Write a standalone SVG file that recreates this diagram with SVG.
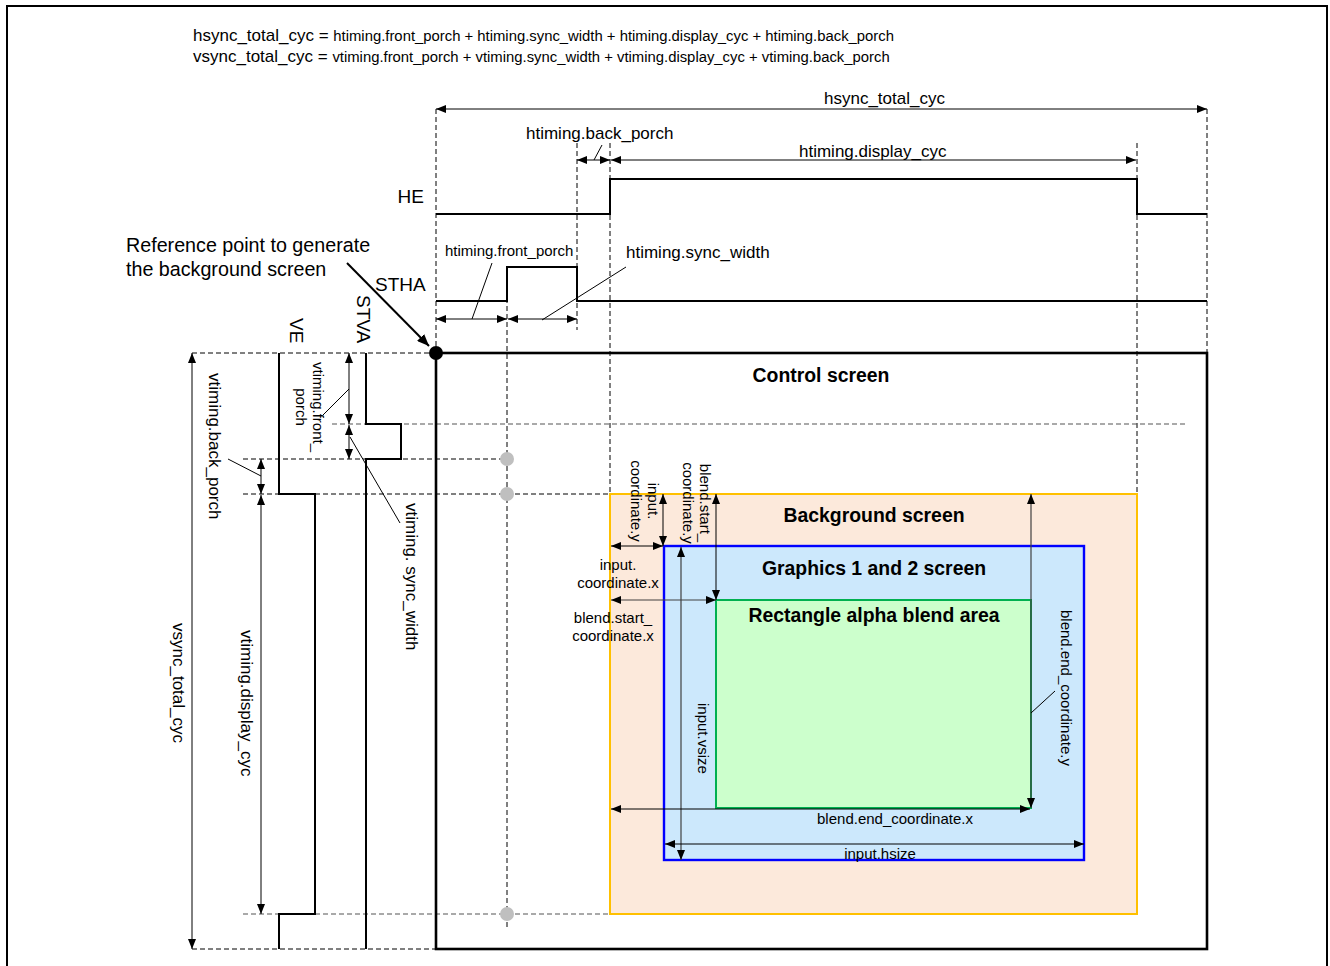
<svg xmlns="http://www.w3.org/2000/svg" width="1330" height="966" viewBox="0 0 1330 966">
<style>
text{font-family:"Liberation Sans",Arial,sans-serif;fill:#000}
.t17{font-size:17px}
.t15{font-size:15px}
.t19{font-size:19px}
.b{font-size:19.4px;font-weight:bold}
.dim{stroke:#000;stroke-width:1;fill:none}
.dimg{stroke:#404040;stroke-width:1.2;fill:none}
.dash{stroke:#000;stroke-width:1;stroke-dasharray:5 3;fill:none}
.dashg{stroke:#555;stroke-width:1.2;stroke-dasharray:5 3;fill:none}
.wave{stroke:#000;stroke-width:2;fill:none}
.lead{stroke:#000;stroke-width:1;fill:none}
</style>
<defs>
<marker id="ah" viewBox="0 0 10 8" refX="10" refY="4" markerWidth="10" markerHeight="8" markerUnits="userSpaceOnUse" orient="auto-start-reverse">
<path d="M0,0 L10,4 L0,8 z" fill="#000"/>
</marker>
<marker id="ahb" viewBox="0 0 12 10" refX="12" refY="5" markerWidth="12" markerHeight="10" markerUnits="userSpaceOnUse" orient="auto">
<path d="M0,0 L12,5 L0,10 z" fill="#000"/>
</marker>
</defs>
<rect x="7" y="6" width="1320" height="970" fill="#fff" stroke="#000" stroke-width="2"/>

<g id="formula">
<text x="193" y="41"><tspan font-size="17">hsync_total_cyc = </tspan><tspan font-size="14.85">htiming.front_porch + htiming.sync_width + htiming.display_cyc + htiming.back_porch</tspan></text>
<text x="193" y="62"><tspan font-size="17">vsync_total_cyc = </tspan><tspan font-size="14.85">vtiming.front_porch + vtiming.sync_width + vtiming.display_cyc + vtiming.back_porch</tspan></text>
</g>

<g id="connectors">
<!-- dashed guides -->
<line class="dash" x1="436" y1="109" x2="436" y2="353"/>
<line class="dash" x1="1207" y1="109" x2="1207" y2="353"/>
<line class="dash" x1="577" y1="143" x2="577" y2="330"/>
<line class="dash" x1="610" y1="143" x2="610" y2="494"/>
<line class="dash" x1="1137" y1="143" x2="1137" y2="494"/>
<line class="dash" x1="507" y1="266" x2="507" y2="930"/>
<line class="dash" x1="192" y1="353" x2="436" y2="353"/>
<line class="dashg" x1="332" y1="424" x2="1188" y2="424"/>
<line class="dash" x1="243" y1="459" x2="507" y2="459"/>
<line class="dash" x1="243" y1="494" x2="610" y2="494"/>
<line class="dashg" x1="243" y1="914" x2="610" y2="914"/>
<line class="dash" x1="192" y1="949" x2="436" y2="949"/>

<!-- horizontal dimensions -->
<line class="dim" x1="436" y1="109" x2="1207" y2="109" marker-start="url(#ah)" marker-end="url(#ah)"/>
<line class="dim" x1="577" y1="160" x2="610" y2="160" marker-start="url(#ah)" marker-end="url(#ah)"/>
<line class="lead" x1="594" y1="160" x2="602" y2="145"/>
<line class="dim" x1="611" y1="160" x2="1136" y2="160" marker-start="url(#ah)" marker-end="url(#ah)"/>
<line class="dim" x1="436" y1="319" x2="507" y2="319" marker-start="url(#ah)" marker-end="url(#ah)"/>
<line class="lead" x1="472" y1="319" x2="492" y2="263"/>
<line class="dim" x1="508" y1="319" x2="577" y2="319" marker-start="url(#ah)" marker-end="url(#ah)"/>
<line class="lead" x1="542" y1="320" x2="626" y2="267"/>

<!-- vertical dimensions left -->
<line class="dim" x1="192" y1="353" x2="192" y2="949" marker-start="url(#ah)" marker-end="url(#ah)"/>
<line class="dim" x1="261" y1="459" x2="261" y2="494" marker-start="url(#ah)" marker-end="url(#ah)"/>
<line class="lead" x1="228" y1="459" x2="261" y2="476"/>
<line class="dim" x1="261" y1="495" x2="261" y2="914" marker-start="url(#ah)" marker-end="url(#ah)"/>
<line class="dim" x1="349" y1="353" x2="349" y2="424" marker-start="url(#ah)" marker-end="url(#ah)"/>
<line class="lead" x1="349" y1="389" x2="323" y2="415"/>
<line class="dim" x1="349" y1="425" x2="349" y2="459" marker-start="url(#ah)" marker-end="url(#ah)"/>
<line class="lead" x1="350" y1="437" x2="400" y2="523"/>

<!-- reference point arrow -->
<line x1="347" y1="263" x2="429" y2="346" stroke="#000" stroke-width="2" marker-end="url(#ahb)"/>
</g>

<g id="HE">
<polyline class="wave" points="436,214 610,214 610,179 1137,179 1137,214 1207,214"/>
<text class="t19" x="424" y="203" text-anchor="end">HE</text>
</g>

<g id="STHA">
<polyline class="wave" points="436,301 507,301 507,267 577,267 577,301 1207,301"/>
<text class="t19" x="375" y="291">STHA</text>
</g>

<g id="VE">
<polyline class="wave" points="279,353 279,494 315,494 315,914 279,914 279,949"/>
<text class="t19" transform="translate(290,318) rotate(90)">VE</text>
</g>

<g id="STVA">
<polyline class="wave" points="366,353 366,424 401,424 401,459 366,459 366,949"/>
<text class="t19" transform="translate(357,295) rotate(90)">STVA</text>
</g>

<g id="labels-timing">
<text class="t17" x="824" y="104">hsync_total_cyc</text>
<text class="t17" x="526" y="139">htiming.back_porch</text>
<text class="t17" x="799" y="157">htiming.display_cyc</text>
<text class="t15" x="445" y="256">htiming.front_porch</text>
<text class="t17" x="626" y="258">htiming.sync_width</text>
<text x="126" y="252" font-size="19.7">Reference point to generate</text>
<text x="126" y="276" font-size="19.7">the background screen</text>
<text class="t17" transform="translate(173,623) rotate(90)">vsync_total_cyc</text>
<text class="t17" transform="translate(241,630) rotate(90)">vtiming.display_cyc</text>
<text class="t17" transform="translate(209,373) rotate(90)">vtiming.back_porch</text>
<text class="t17" transform="translate(406,503) rotate(90)">vtiming. sync_width</text>
<text class="t15" transform="translate(313,407) rotate(90)" text-anchor="middle"><tspan x="0" y="0">vtiming.front_</tspan><tspan x="0" y="17">porch</tspan></text>
</g>

<g id="control-screen">
<rect x="436" y="353" width="771" height="596" fill="none" stroke="#000" stroke-width="2.6"/>
<text class="b" x="821" y="382" text-anchor="middle">Control screen</text>
</g>

<g id="ref-point">
<circle cx="436" cy="353" r="7" fill="#000"/>
</g>

<g id="guide-dots">
<circle cx="507" cy="459" r="7" fill="#bfbfbf"/>
<circle cx="507" cy="494" r="7" fill="#bfbfbf"/>
<circle cx="507" cy="914" r="7" fill="#bfbfbf"/>
</g>

<g id="background-screen">
<rect x="610" y="494" width="527" height="420" fill="#fce9db" stroke="#ffc000" stroke-width="2"/>
<text class="b" x="874" y="522" text-anchor="middle">Background screen</text>
</g>

<g id="graphics-screen">
<rect x="664" y="546" width="420" height="314" fill="#cce8fc" stroke="#0000ff" stroke-width="2.4"/>
<text class="b" x="874" y="575" text-anchor="middle">Graphics 1 and 2 screen</text>
</g>

<g id="blend-area">
<rect x="716" y="600" width="315" height="208" fill="#ccffcc" stroke="#00b050" stroke-width="2"/>
<text class="b" x="874" y="622" text-anchor="middle">Rectangle alpha blend area</text>
</g>

<g id="connectors-inner">
<line class="dim" x1="663" y1="494" x2="663" y2="546" marker-start="url(#ah)" marker-end="url(#ah)"/>
<line class="dim" x1="611" y1="546" x2="663" y2="546" marker-start="url(#ah)" marker-end="url(#ah)"/>
<line class="dim" x1="716" y1="494" x2="716" y2="600" marker-start="url(#ah)" marker-end="url(#ah)"/>
<line class="dimg" x1="611" y1="600" x2="716" y2="600" marker-start="url(#ah)" marker-end="url(#ah)"/>
<line class="dimg" x1="681" y1="547" x2="681" y2="860" marker-start="url(#ah)" marker-end="url(#ah)"/>
<line class="dimg" x1="1031" y1="494" x2="1031" y2="808" marker-start="url(#ah)" marker-end="url(#ah)"/>
<line class="lead" x1="1031" y1="713" x2="1055" y2="691"/>
<line class="dim" x1="611" y1="809" x2="1030" y2="809" marker-start="url(#ah)" marker-end="url(#ah)"/>
<line class="dim" x1="665" y1="844" x2="1084" y2="844" marker-start="url(#ah)" marker-end="url(#ah)"/>
</g>

<g id="labels-inner">
<text class="t15" transform="translate(648,501) rotate(90)" text-anchor="middle"><tspan x="0" y="0">input.</tspan><tspan x="0" y="17">coordinate.y</tspan></text>
<text class="t15" transform="translate(700,503) rotate(90)" text-anchor="middle"><tspan x="0" y="0">blend.start_</tspan><tspan x="0" y="17">coordinate.y</tspan></text>
<text class="t15" x="618" y="570" text-anchor="middle">input.</text>
<text class="t15" x="618" y="588" text-anchor="middle">coordinate.x</text>
<text class="t15" x="613" y="623" text-anchor="middle">blend.start_</text>
<text class="t15" x="613" y="641" text-anchor="middle">coordinate.x</text>
<text class="t15" transform="translate(698,703) rotate(90)">input.vsize</text>
<text class="t15" transform="translate(1061,610) rotate(90)">blend.end_coordinate.y</text>
<text class="t15" x="895" y="824" text-anchor="middle">blend.end_coordinate.x</text>
<text class="t15" x="880" y="859" text-anchor="middle">input.hsize</text>
</g>
</svg>
